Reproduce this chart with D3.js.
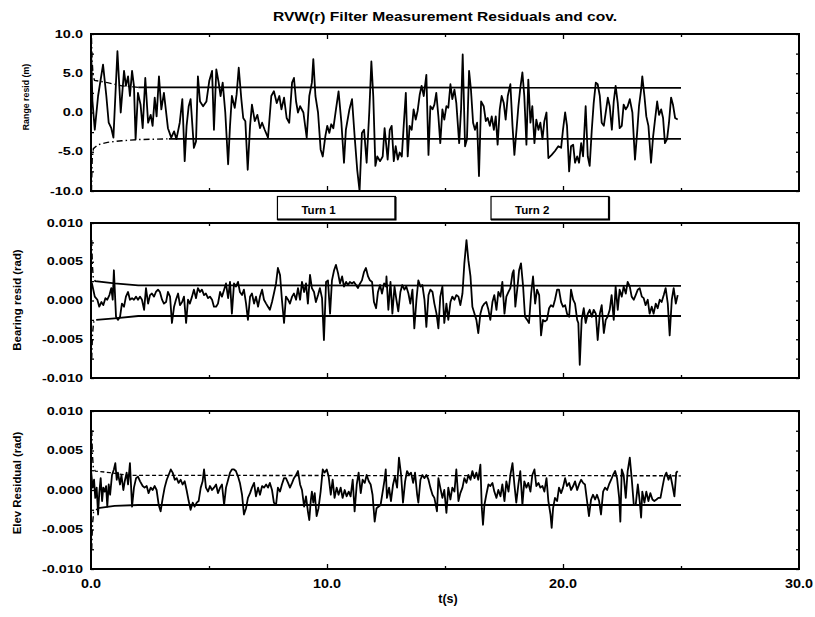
<!DOCTYPE html>
<html>
<head>
<meta charset="utf-8">
<script src="https://cdn.jsdelivr.net/npm/d3@7"></script>
<style>
  body { margin: 0; background: #fff; }
  svg { display: block; }
  text { font-family: "Liberation Sans", Arial, sans-serif; font-weight: bold; fill: #000; }
</style>
</head>
<body>
<svg id="chart" width="815" height="617"></svg>
<script>
// ---- data: [t (s), residual] ----
const rangeResid = [[0.00,8.4],[0.06,1.5],[0.16,-2.2],[0.30,2.1],[0.51,6.1],[0.65,2.1],[0.75,-1.3],[0.86,-2.0],[0.95,-3.2],[1.12,7.8],[1.26,0],[1.40,5.3],[1.48,3.4],[1.57,4.6],[1.65,2.1],[1.74,5.3],[1.82,3.4],[1.89,-3.4],[1.99,2.5],[2.10,1.0],[2.19,-2.0],[2.30,4.4],[2.42,-1.3],[2.53,-0.3],[2.61,-1.7],[2.70,1.9],[2.78,-0.5],[2.88,4.6],[2.98,0.4],[3.09,2.5],[3.26,-2.0],[3.40,-3.2],[3.52,-2.4],[3.62,-3.4],[3.76,-1.3],[3.87,1.7],[3.97,-6.2],[4.05,-1.7],[4.14,0.8],[4.22,1.7],[4.36,-4.5],[4.45,-3.7],[4.53,4.6],[4.62,1.4],[4.75,0.8],[4.89,1.4],[5.01,4.0],[5.13,5.3],[5.21,-2.2],[5.31,5.5],[5.41,3.8],[5.49,2.1],[5.58,3.8],[5.69,0],[5.81,-6.6],[5.89,-1.7],[5.97,2.1],[6.09,0.6],[6.17,2.3],[6.26,5.7],[6.37,1.7],[6.45,-0.7],[6.54,-1.1],[6.64,-7.3],[6.74,-1.7],[6.82,1.0],[6.94,-1.1],[7.05,-0.3],[7.16,-2.0],[7.25,-1.3],[7.36,-2.2],[7.50,-3.2],[7.64,2.1],[7.75,2.7],[7.87,1.2],[7.98,2.1],[8.07,0.4],[8.18,1.9],[8.29,-0.7],[8.40,-1.3],[8.52,3.8],[8.60,4.4],[8.69,1.4],[8.77,0],[8.86,0.8],[9.00,0],[9.14,-3.2],[9.25,2.1],[9.36,3.8],[9.42,6.8],[9.51,2.1],[9.62,0],[9.73,-4.7],[9.82,-5.6],[9.93,-3.0],[10.01,-1.7],[10.10,-2.6],[10.18,-1.5],[10.27,-2.0],[10.38,0.4],[10.49,2.7],[10.61,-1.3],[10.72,-6.4],[10.80,-2.2],[10.95,0.4],[11.06,1.7],[11.17,-3.0],[11.28,-7.3],[11.38,-10.0],[11.48,-2.6],[11.57,-2.2],[11.68,-6.4],[11.79,0],[11.88,6.5],[11.96,2.1],[12.05,-6.8],[12.13,-5.6],[12.25,-6.2],[12.36,-5.6],[12.44,-2.0],
  [12.57,-6.0],[12.66,-2.2],[12.74,-1.7],[12.83,-6.2],[12.91,-4.3],[13.00,-6.0],[13.08,-5.1],[13.17,-5.6],[13.25,-1.7],[13.34,2.5],[13.42,-5.6],[13.50,-1.7],[13.59,-2.2],[13.67,0.4],[13.76,-0.9],[13.84,0.2],[13.93,2.3],[14.01,3.4],[14.10,2.1],[14.21,4.8],[14.30,-5.4],[14.38,0.8],[14.47,0.4],[14.55,1.0],[14.63,2.5],[14.72,-0.5],[14.80,-3.9],[14.89,0.4],[14.97,-0.9],[15.06,0.8],[15.14,0.6],[15.23,3.6],[15.31,1.7],[15.40,2.9],[15.48,1.2],[15.60,-3.9],[15.68,0.4],[15.75,7.4],[15.85,-4.3],[15.93,-3.4],[16.02,5.3],[16.10,2.9],[16.19,-1.3],[16.27,-2.2],[16.36,-1.3],[16.44,-8.1],[16.53,1.4],[16.64,0.8],[16.73,-1.1],[16.81,-0.7],[16.90,-1.7],[16.98,-0.5],[17.07,-2.2],[17.15,-0.5],[17.23,-4.1],[17.32,0.4],[17.40,2.1],[17.49,1.2],[17.57,-0.9],[17.66,2.1],[17.77,3.6],[17.86,-1.7],[17.94,-5.4],[18.03,-2.2],[18.11,0.8],[18.19,3.1],[18.28,5.1],[18.36,2.1],[18.45,-4.1],[18.53,4.2],[18.62,-1.3],[18.70,0.8],[18.79,-3.9],[18.87,-0.9],[18.96,-2.2],[19.04,-1.3],[19.13,-3.4],[19.21,-1.1],[19.30,0],[19.38,-5.8],[19.52,-5.4],[19.66,-4.9],[19.80,-4.3],[19.92,-4.5],[20.00,-2.2],[20.09,0],[20.17,-1.7],[20.26,-7.5],[20.34,-4.3],[20.43,-4.1],[20.51,-6.4],[20.60,-5.6],[20.68,-6.4],[20.77,-3.9],[20.85,-5.6],[20.96,0.8],[21.05,-5.6],[21.13,-6.8],[21.22,-2.2],[21.30,1.2],[21.39,3.8],[21.47,3.6],[21.56,2.1],[21.64,-1.3],[21.73,-1.7],[21.81,0],[21.90,1.9],[21.98,0.8],[22.07,-2.2],[22.15,1.4],[22.23,3.4],[22.32,1.2],[22.40,-2.0],[22.49,-1.7],[22.57,1.0],[22.66,0.4],[22.74,0.8],[22.83,1.7],[22.94,0],[23.05,-6.0],[23.14,-2.6],[23.22,0.8],[23.31,2.9],[23.36,4.6],[23.45,2.1],[23.53,-0.5],[23.62,-1.7],[23.73,-6.4],[23.82,-3.0],[23.90,-0.9],[23.99,1.4],[24.07,-0.3],[24.16,0.4],[24.24,-0.7],[24.32,-3.9],[24.41,-3.4],[24.49,-1.3],[24.58,1.9],[24.66,1.0],[24.75,-0.7],[24.86,-0.9]];
const rangeUpper = [[0.02,9.5],[0.05,6.5],[0.09,4.6],[0.15,4.1],[0.7,3.8],[1.3,3.4],[2.0,3.2],[25,3.15]];
const rangeLower = [[0.02,-10],[0.05,-6.0],[0.1,-4.6],[0.3,-4.1],[0.7,-3.8],[1.3,-3.6],[2.0,-3.45],[3.3,-3.35],[25,-3.35]];

// bearing and elevation residuals in units of 0.001 rad
const bearingResid = [[0.00,2.4],[0.04,2.2],[0.16,0.5],[0.27,0.1],[0.35,-0.8],[0.44,-0.2],[0.52,-0.6],[0.61,0.3],[0.69,0.1],[0.78,0.7],[0.86,1.6],[0.92,0.1],[0.97,3.9],[1.06,-2.1],[1.14,-2.5],[1.23,-2.1],[1.31,-0.4],[1.40,-0.8],[1.48,0.5],[1.57,1.1],[1.65,0.1],[1.74,0.3],[1.82,0.1],[1.91,0.5],[1.99,0.1],[2.08,0.5],[2.16,0.1],[2.25,-1.2],[2.33,1.6],[2.42,-0.4],[2.50,0.7],[2.58,0.9],[2.67,0.5],[2.75,1.1],[2.84,1.4],[2.92,1.1],[3.01,0.1],[3.09,-0.4],[3.18,-0.2],[3.26,1.1],[3.35,0.5],[3.43,-2.9],[3.52,-0.8],[3.60,0.1],[3.69,0.9],[3.77,-0.6],[3.86,-0.2],[3.94,0.5],[4.03,-2.9],[4.11,0.1],[4.19,-0.4],[4.28,0.5],[4.36,1.4],[4.45,0.3],[4.53,1.6],[4.62,1.1],[4.70,1.4],[4.79,0.7],[4.87,0.9],[4.96,0.3],[5.04,0.5],[5.13,0.1],[5.21,-0.8],[5.30,-0.8],[5.38,-0.4],[5.47,1.1],[5.55,0.5],[5.64,1.4],[5.72,2.2],[5.81,0.3],[5.89,2.4],[5.97,-1.7],[6.06,2.2],[6.14,1.8],[6.23,2.4],[6.31,1.1],[6.40,0.7],[6.48,1.4],[6.57,-0.4],[6.65,-2.5],[6.74,0.5],[6.82,0.9],[6.91,-0.4],[6.99,0.5],[7.08,-0.8],[7.16,0.5],[7.25,1.4],[7.33,0.1],[7.42,-0.4],[7.50,-0.8],[7.58,-1.2],[7.67,-0.2],[7.75,0.9],[7.84,2.2],[7.92,4.2],[8.01,3.3],[8.09,0.1],[8.18,-2.9],[8.26,0.5],[8.35,0.1],[8.43,-0.4],[8.52,0.5],[8.60,0.9],[8.69,0.1],[8.77,1.6],[8.86,0.1],[8.94,2.4],[9.03,1.1],[9.11,2.2],[9.19,-0.4],[9.28,3.3],[9.36,1.6],[9.45,1.1],[9.53,-0.2],[9.62,0.7],[9.70,1.6],[9.79,0.3],[9.87,-5.1],[9.96,2.4],[10.04,2.6],[10.13,-1.7],[10.21,2.6],[10.30,3.9],[10.38,4.6],[10.47,3.5],[10.55,2.2],[10.64,3.1],[10.72,1.8],[10.81,2.4],[10.89,2.0],[10.97,2.4],[11.06,2.2],[11.14,2.4],[11.23,2.0],[11.31,1.6],[11.40,2.2],[11.48,2.6],[11.57,3.7],[11.65,4.2],[11.74,3.1],[11.82,2.6],[11.91,2.4],[11.99,-0.2],[12.08,-1.0],[12.16,1.1],[12.25,2.0],[12.33,0.9],[12.42,2.2],[12.50,1.8],
  [12.52,3.1],[12.60,-1.2],[12.69,2.4],[12.77,-1.7],[12.86,1.8],[12.94,0.1],[13.02,-1.4],[13.11,1.1],[13.19,2.0],[13.28,1.4],[13.36,1.8],[13.45,0.9],[13.53,-0.4],[13.62,1.4],[13.70,-3.6],[13.79,0.1],[13.87,2.6],[13.96,1.8],[14.04,2.0],[14.13,0.1],[14.21,-3.4],[14.30,0.7],[14.38,1.4],[14.47,1.1],[14.55,-0.4],[14.64,-1.7],[14.72,-3.6],[14.80,0.5],[14.89,1.8],[14.97,-2.9],[15.06,-0.4],[15.14,-2.5],[15.23,-0.2],[15.31,0.5],[15.40,0.1],[15.48,0.7],[15.57,0.5],[15.65,-0.6],[15.74,0.9],[15.82,4.8],[15.91,7.8],[15.99,5.2],[16.08,3.1],[16.16,-0.8],[16.25,-1.7],[16.33,-2.5],[16.41,-4.2],[16.50,-1.7],[16.58,-0.8],[16.67,-0.4],[16.75,-0.2],[16.84,-1.2],[16.92,-2.5],[17.01,-0.2],[17.09,0.7],[17.18,-1.2],[17.26,1.1],[17.35,0.5],[17.43,2.4],[17.52,-1.7],[17.60,0.5],[17.69,1.1],[17.77,1.6],[17.86,3.5],[17.91,3.9],[17.98,-0.8],[18.08,2.0],[18.14,3.9],[18.22,4.8],[18.31,1.8],[18.39,-2.1],[18.48,-2.5],[18.56,-2.9],[18.65,0.9],[18.73,3.1],[18.82,-0.4],[18.90,1.4],[18.99,0.7],[19.07,-4.5],[19.15,-2.5],[19.24,-2.7],[19.32,-2.5],[19.41,-1.0],[19.49,-0.6],[19.58,-0.8],[19.66,0.1],[19.75,1.4],[19.83,1.4],[19.92,-0.2],[20.00,-0.8],[20.09,-0.6],[20.17,-1.7],[20.26,-2.1],[20.34,1.4],[20.43,0.1],[20.51,-0.4],[20.60,-2.5],[20.65,-2.9],[20.71,-8.3],[20.79,-2.5],[20.88,-1.0],[20.96,-2.9],[21.05,-1.7],[21.13,-1.2],[21.22,-2.1],[21.30,-1.2],[21.39,-1.7],[21.47,-5.1],[21.56,-1.7],[21.64,-0.6],[21.73,-4.2],[21.81,-2.5],[21.89,-2.1],[21.98,-1.2],[22.06,0.7],[22.15,-2.5],[22.23,1.8],[22.32,-1.2],[22.40,1.4],[22.49,0.5],[22.57,1.8],[22.66,0.9],[22.74,2.4],[22.83,1.8],[22.91,0.5],[23.00,0.1],[23.08,0.7],[23.17,1.4],[23.25,1.6],[23.34,0.5],[23.42,0.3],[23.50,-0.6],[23.59,0.1],[23.67,-1.7],[23.76,-0.8],[23.84,-1.7],[23.93,-0.4],[24.01,-1.0],[24.10,0.1],[24.18,-0.2],[24.27,0.7],[24.35,1.6],[24.44,-0.4],[24.52,-4.5],[24.61,0.1],[24.69,1.6],[24.78,-0.4],[24.86,0.7]];
const bearingUpper = [[0.03,7.8],[0.06,4.5],[0.1,2.8],[0.18,2.5],[1.0,2.2],[2.0,1.95],[25,1.9]];
const bearingLower = [[0.03,-7.5],[0.06,-4.5],[0.11,-2.8],[0.22,-2.5],[1.0,-2.3],[2.0,-2.0],[25,-2.0]];

const elevResid = [[0.01,2.2],[0.07,0.3],[0.13,1.3],[0.18,-1.0],[0.24,0.3],[0.30,-3.1],[0.35,-0.4],[0.41,1.5],[0.47,-1.4],[0.52,0.3],[0.58,-0.2],[0.64,0.5],[0.69,-2.1],[0.75,0.7],[0.81,-0.6],[0.89,1.9],[0.97,2.6],[1.03,3.4],[1.09,1.3],[1.14,2.2],[1.23,0.7],[1.29,1.9],[1.37,0],[1.43,1.1],[1.51,2.2],[1.57,0.7],[1.65,3.4],[1.74,-2.1],[1.82,0.3],[1.91,1.5],[1.99,1.7],[2.08,1.1],[2.19,0.5],[2.27,0.3],[2.36,0.5],[2.44,-0.4],[2.53,0.3],[2.61,0],[2.70,0.5],[2.78,0],[2.87,-1.9],[2.95,-2.7],[3.04,-1.0],[3.12,0.3],[3.21,1.3],[3.29,1.9],[3.38,2.6],[3.46,2.2],[3.55,1.3],[3.63,1.5],[3.71,0.9],[3.80,1.3],[3.88,0.7],[3.97,1.1],[4.05,0],[4.14,-1.4],[4.22,-2.5],[4.31,-1.6],[4.39,-2.1],[4.48,-1.6],[4.56,-1.4],[4.65,0.3],[4.73,1.1],[4.79,2.6],[4.87,0.3],[4.96,-0.2],[5.04,0.5],[5.13,0],[5.21,0.3],[5.30,0.7],[5.38,-0.4],[5.47,0.3],[5.55,0.7],[5.64,-1.9],[5.72,0.3],[5.81,1.3],[5.89,2.2],[5.97,2.6],[6.06,2.6],[6.14,2.4],[6.23,1.7],[6.31,0.9],[6.40,-0.6],[6.48,-3.1],[6.57,-2.3],[6.65,-1.0],[6.74,-0.4],[6.82,0.3],[6.91,0.9],[6.99,-0.8],[7.08,0.3],[7.16,-0.6],[7.25,0.5],[7.33,0.3],[7.42,0.7],[7.50,0.3],[7.58,0.9],[7.67,0],[7.75,-1.6],[7.84,-1.9],[7.92,0.3],[8.01,-0.2],[8.09,0.7],[8.18,1.5],[8.26,1.5],[8.35,0.9],[8.43,0.3],[8.52,0.9],[8.60,1.5],[8.69,1.9],[8.77,2.4],[8.86,0.7],[8.94,0],[9.03,-2.1],[9.11,-0.8],[9.19,-2.7],[9.25,-3.8],[9.31,-1.4],[9.36,-0.2],[9.42,-1.6],[9.48,-0.4],[9.56,-3.3],[9.64,-2.3],[9.73,-0.2],[9.82,2.6],[9.90,2.2],[9.99,2.6],[10.07,1.7],[10.16,-0.6],[10.24,1.3],[10.32,-1.0],[10.41,0.3],[10.49,-0.6],[10.58,0.3],[10.66,-1.0],[10.75,0],[10.83,-0.8],[10.92,-0.2],[11.00,-0.8],[11.09,1.3],[11.17,-2.7],[11.26,0.7],[11.34,2.2],[11.43,-0.4],[11.51,1.3],[11.60,0.9],[11.68,1.9],[11.77,1.1],[11.85,0.7],[11.93,-0.6],[12.02,-4.0],[12.10,-2.3],[12.19,-2.1],[12.27,-1.9],[12.36,-0.2],[12.44,1.3],[12.49,2.6],
  [12.54,-1.0],[12.63,0.3],[12.71,-1.4],[12.80,0.7],[12.88,1.7],[12.97,0.3],[13.05,4.1],[13.14,1.9],[13.22,-1.6],[13.31,1.1],[13.39,2.4],[13.48,1.9],[13.56,2.2],[13.65,0.9],[13.73,2.2],[13.82,-0.6],[13.87,-1.6],[13.96,1.3],[14.04,1.9],[14.13,1.5],[14.21,1.9],[14.30,1.3],[14.38,0.3],[14.47,-0.6],[14.55,-1.0],[14.66,-2.7],[14.72,1.5],[14.80,0.3],[14.89,-1.0],[14.97,0],[15.06,-2.9],[15.14,0.3],[15.23,-1.2],[15.31,0.3],[15.40,-0.2],[15.48,2.6],[15.57,-1.4],[15.65,-0.4],[15.74,0.3],[15.82,1.5],[15.91,0.9],[15.99,1.9],[16.08,1.3],[16.16,2.4],[16.25,1.5],[16.33,2.2],[16.41,1.3],[16.50,3.2],[16.56,-2.3],[16.61,-4.4],[16.67,-1.9],[16.75,-0.6],[16.84,0.7],[16.92,0.5],[17.01,0.9],[17.09,-0.2],[17.18,-1.0],[17.26,0],[17.35,-0.8],[17.43,0.7],[17.52,-1.4],[17.60,1.1],[17.69,-0.2],[17.77,1.9],[17.86,3.4],[17.94,0.7],[18.02,-1.6],[18.11,0.7],[18.19,2.4],[18.28,-1.9],[18.36,1.1],[18.45,0.3],[18.53,0.9],[18.62,-0.2],[18.70,1.9],[18.79,2.6],[18.87,0.5],[18.96,0.9],[19.04,0.3],[19.13,0.5],[19.21,-0.2],[19.30,1.5],[19.38,-1.4],[19.47,-3.1],[19.52,-4.8],[19.58,-2.3],[19.66,-1.0],[19.75,-1.4],[19.83,0.3],[19.92,-0.4],[20.00,0.3],[20.09,1.5],[20.17,0.5],[20.26,0.9],[20.34,0],[20.43,0.5],[20.51,1.1],[20.60,0],[20.68,0.7],[20.77,1.3],[20.85,0.9],[20.93,0.7],[21.02,-1.4],[21.10,-3.3],[21.19,-1.2],[21.27,-0.6],[21.36,-1.2],[21.44,-0.6],[21.53,-1.4],[21.61,-3.1],[21.70,-0.2],[21.78,0.3],[21.87,0],[21.95,0.7],[22.04,1.3],[22.12,1.9],[22.21,2.4],[22.29,1.5],[22.38,-1.0],[22.43,-4.0],[22.49,2.6],[22.57,1.9],[22.66,-1.0],[22.74,2.4],[22.83,4.1],[22.91,1.5],[23.00,-1.9],[23.08,-1.9],[23.17,0.7],[23.25,-1.4],[23.31,-3.5],[23.36,-0.2],[23.45,-1.6],[23.53,-0.2],[23.62,-1.4],[23.70,-0.4],[23.79,-1.2],[23.87,-1.4],[23.96,-1.2],[24.04,-1.0],[24.13,-1.0],[24.21,0.3],[24.30,1.7],[24.38,2.2],[24.47,1.3],[24.55,1.9],[24.63,0.7],[24.72,-0.8],[24.80,2.2],[24.86,2.4]];
const elevUpper = [[0.03,7.6],[0.06,4.5],[0.1,2.8],[0.18,2.4],[0.8,2.2],[1.6,1.85],[25,1.8]];
const elevLower = [[0.03,-7.5],[0.06,-4.5],[0.11,-2.8],[0.3,-2.3],[1.0,-2.0],[2.0,-1.9],[25,-1.9]];

// ---- axes / labels ----
const xTicks = [0, 10, 20, 30];
const xTickLabels = ["0.0", "10.0", "20.0", "30.0"];
const xMinorTicks = [5, 15, 25];
const yTicks = [10, 5, 0, -5, -10];
const yMinorTicks = [7.5, 2.5, -2.5, -7.5];
const rangeTickLabels = ["10.0", "5.0", "0.0", "-5.0", "-10.0"];
const radTickLabels = ["0.010", "0.005", "0.000", "-0.005", "-0.010"];
const turnNames = ["Turn 1", "Turn 2"];
const turnSpans = [[7.9, 12.9], [16.95, 21.95]];
const chartTitle = "RVW(r) Filter Measurement Residuals and cov.";

const svg = d3.select("#chart");
const x = d3.scaleLinear().domain([0, 30]).range([91, 799]);

const panels = [
  { resid: rangeResid, upper: rangeUpper, lower: rangeLower, top: 34, bottom: 191,
    labels: rangeTickLabels, name: "Range resid (m)", nameX: 29, nameY: 97, nameSize: 8.8,
    upperSplit: 2.0, lowerSplit: 3.3, upperDash: null },
  { resid: bearingResid, upper: bearingUpper, lower: bearingLower, top: 223, bottom: 378,
    labels: radTickLabels, name: "Bearing resid (rad)", nameX: 20.5, nameY: 300, nameSize: 11.4,
    upperSplit: 0.15, lowerSplit: 0.22, upperDash: null },
  { resid: elevResid, upper: elevUpper, lower: elevLower, top: 411, bottom: 569,
    labels: radTickLabels, name: "Elev Residual (rad)", nameX: 20.5, nameY: 483, nameSize: 11.4,
    upperSplit: 0.15, lowerSplit: 0.3, upperDash: "4,2.5" }
];

// title
svg.append("text")
  .attr("transform", "translate(445,21) scale(1.2,1)")
  .attr("text-anchor", "middle")
  .style("font-size", "13px")
  .text(chartTitle);

panels.forEach((p, i) => {
  const y = d3.scaleLinear().domain([-10, 10]).range([p.bottom, p.top]);
  const g = svg.append("g");

  // inside tick marks on all four sides
  const tickStyle = sel => sel.call(s => s.select(".domain").remove())
    .selectAll("line").attr("stroke", "#000").attr("stroke-width", 1.3);
  g.append("g").attr("transform", `translate(0,${p.bottom})`)
    .call(d3.axisBottom(x).tickValues(xTicks.slice(1, 3)).tickSize(-5).tickFormat("")).call(tickStyle);
  g.append("g").attr("transform", `translate(0,${p.bottom})`)
    .call(d3.axisBottom(x).tickValues(xMinorTicks).tickSize(-3).tickFormat("")).call(tickStyle);
  g.append("g").attr("transform", `translate(0,${p.top})`)
    .call(d3.axisTop(x).tickValues(xTicks.slice(1, 3)).tickSize(-5).tickFormat("")).call(tickStyle);
  g.append("g").attr("transform", `translate(0,${p.top})`)
    .call(d3.axisTop(x).tickValues(xMinorTicks).tickSize(-3).tickFormat("")).call(tickStyle);
  g.append("g").attr("transform", `translate(${x(0)},0)`)
    .call(d3.axisLeft(y).tickValues(yTicks.concat(yMinorTicks)).tickSize(-3).tickFormat("")).call(tickStyle);
  g.append("g").attr("transform", `translate(${x(30)},0)`)
    .call(d3.axisRight(y).tickValues(yTicks.concat(yMinorTicks)).tickSize(-3).tickFormat("")).call(tickStyle);

  // y tick labels (wide bold digits)
  yTicks.forEach((v, k) => {
    g.append("text")
      .attr("transform", `translate(83,${y(v)}) scale(1.45,1)`)
      .attr("text-anchor", "end")
      .attr("dy", "0.36em")
      .style("font-size", "10px")
      .text(p.labels[k]);
  });

  // y axis name
  g.append("text")
    .attr("transform", `translate(${p.nameX},${p.nameY}) rotate(-90)`)
    .attr("text-anchor", "middle")
    .style("font-size", p.nameSize + "px")
    .text(p.name);

  const line = d3.line().x(d => x(d[0])).y(d => y(d[1]));

  // covariance bounds: early transient dash-dot, then steady
  const bound = (pts, split, steadyDash) => {
    const early = pts.filter(d => d[0] <= split);
    const late = pts.filter(d => d[0] >= split);
    const atSplit = [split, d3.scaleLinear().domain(pts.map(d => d[0])).range(pts.map(d => d[1]))(split)];
    g.append("path").datum(early.concat([atSplit]))
      .attr("d", line).attr("fill", "none").attr("stroke", "#000")
      .attr("stroke-width", 1.4).attr("stroke-dasharray", "6,3,1.5,3");
    g.append("path").datum([atSplit].concat(late))
      .attr("d", line).attr("fill", "none").attr("stroke", "#000")
      .attr("stroke-width", steadyDash ? 1.3 : 1.8)
      .attr("stroke-dasharray", steadyDash);
  };
  bound(p.upper, p.upperSplit, p.upperDash);
  bound(p.lower, p.lowerSplit, null);

  // residual trace
  g.append("path").datum(p.resid)
    .attr("d", line)
    .attr("fill", "none")
    .attr("stroke", "#000")
    .attr("stroke-width", 1.8)
    .attr("stroke-linejoin", "round");

  // frame
  g.append("rect")
    .attr("x", x(0)).attr("y", p.top)
    .attr("width", x(30) - x(0)).attr("height", p.bottom - p.top)
    .attr("fill", "none").attr("stroke", "#000").attr("stroke-width", 2);
});

// turn markers between the first two panels
turnSpans.forEach((s, i) => {
  const x0 = x(s[0]), x1 = x(s[1]);
  svg.append("rect")
    .attr("x", x0).attr("y", 196.5)
    .attr("width", x1 - x0).attr("height", 23)
    .attr("fill", "#fff").attr("stroke", "#000").attr("stroke-width", 1.2);
  svg.append("path")
    .attr("d", `M${x1},197 V${219.5} H${x0}`)
    .attr("fill", "none").attr("stroke", "#000").attr("stroke-width", 2.2);
  svg.append("text")
    .attr("x", x0 + 24).attr("y", 214)
    .style("font-size", "11.5px")
    .text(turnNames[i]);
});

// x tick labels and axis name under the bottom panel
xTicks.forEach((v, k) => {
  svg.append("text")
    .attr("transform", `translate(${x(v)},588) scale(1.15,1)`)
    .attr("text-anchor", "middle")
    .style("font-size", "12.5px")
    .text(xTickLabels[k]);
});
svg.append("text")
  .attr("x", 448).attr("y", 603)
  .attr("text-anchor", "middle")
  .style("font-size", "12.5px")
  .text("t(s)");
</script>
</body>
</html>
